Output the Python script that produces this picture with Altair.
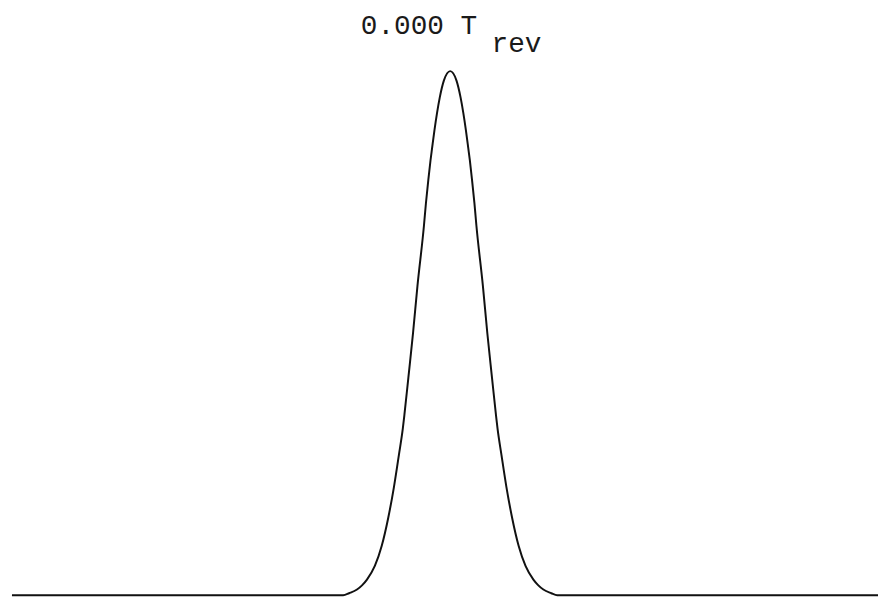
import altair as alt
import pandas as pd

# Position along the axis (arbitrary units, 0..100 across the visible width)
x_pos = [0.0, 38.24, 38.93, 39.84, 40.42, 40.99, 41.90, 42.69, 43.45, 44.11,
         44.68, 45.13, 45.32, 45.77, 46.31, 46.82, 47.57, 47.80, 48.08, 48.33,
         48.51, 48.79, 49.08, 49.40, 49.87, 50.60, 51.33, 51.80, 52.12, 52.41,
         52.69, 52.87, 53.12, 53.40, 53.63, 54.38, 54.89, 55.43, 55.88, 56.07,
         56.52, 57.09, 57.75, 58.51, 59.30, 60.21, 60.78, 61.36, 62.27, 62.96,
         100.0]

# Probability density (relative to the peak)
amplitude = [0.000, 0.000, 0.004, 0.011, 0.019, 0.030, 0.056, 0.094, 0.148, 0.207,
             0.268, 0.318, 0.345, 0.415, 0.500, 0.590, 0.705, 0.748, 0.793, 0.830,
             0.853, 0.888, 0.920, 0.950, 0.982, 1.000, 0.982, 0.950, 0.920, 0.888,
             0.853, 0.830, 0.793, 0.748, 0.705, 0.590, 0.500, 0.415, 0.345, 0.318,
             0.268, 0.207, 0.148, 0.094, 0.056, 0.030, 0.019, 0.011, 0.004, 0.000,
             0.000]

title_main = ["0.000 T"]
title_sub = ["rev"]

df = pd.DataFrame({"x": x_pos, "amp": amplitude})

W, H = 874, 590
FONT = "Courier New, Liberation Mono, monospace"

line = alt.Chart(df).mark_line(
    color="#111111", strokeWidth=2, interpolate="monotone", clip=False
).encode(
    x=alt.X("x:Q", scale=alt.Scale(domain=[0, 100], nice=False, zero=False), axis=None),
    y=alt.Y("amp:Q", scale=alt.Scale(domain=[0, 1.1153], nice=False, zero=True), axis=None),
)

t_main = alt.Chart(pd.DataFrame({"t": title_main})).mark_text(
    font=FONT, fontSize=28, align="left", baseline="alphabetic", color="#1a1a1a"
).encode(x=alt.value(352), y=alt.value(24), text="t:N")

t_sub = alt.Chart(pd.DataFrame({"t": title_sub})).mark_text(
    font=FONT, fontSize=28, align="left", baseline="alphabetic", color="#1a1a1a"
).encode(x=alt.value(484), y=alt.value(42), text="t:N")

chart = alt.layer(line, t_main, t_sub).properties(
    width=W, height=H,
    padding={"left": 4, "top": 0, "right": 0, "bottom": 1},
    autosize=alt.AutoSizeParams(type="none"),
    background="white",
).configure_view(stroke=None)

chart.save("out.html", embed_options={"renderer": "svg", "actions": False})
